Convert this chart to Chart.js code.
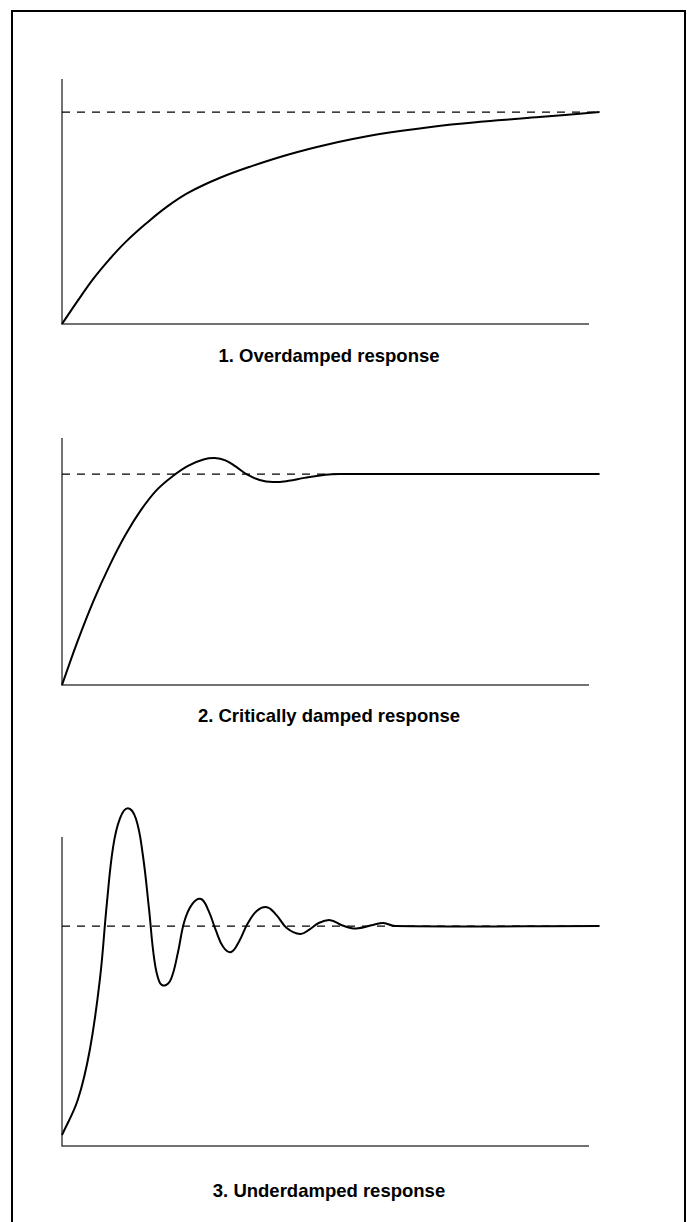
<!DOCTYPE html>
<html>
<head>
<meta charset="utf-8">
<script src="https://cdn.jsdelivr.net/npm/chart.js@4/dist/chart.umd.min.js"></script>
<style>
    body { margin: 0; width: 687px; height: 1222px; overflow: hidden; background: #fff; position: relative; }
    #frame { position: absolute; left: 11px; top: 10px; width: 675px; height: 1300px; border: 2px solid #000; box-sizing: border-box; }
    canvas { position: absolute; left: 40px; }
    .caption { position: absolute; left: 129px; width: 400px; text-align: center; font-family: "Liberation Sans", Arial, sans-serif; font-weight: bold; font-size: 18.5px; line-height: 20px; color: #000; }
</style>
</head>
<body>
<div id="frame"></div>
<canvas id="chart_over" width="600" height="305" style="top:39px"></canvas>
<canvas id="chart_crit" width="600" height="307" style="top:398px"></canvas>
<canvas id="chart_under" width="600" height="369" style="top:797px"></canvas>
<div class="caption" id="cap_over" style="top:346px"></div>
<div class="caption" id="cap_crit" style="top:706px"></div>
<div class="caption" id="cap_under" style="top:1181px"></div>

<script>
// data (time 0..10, setpoint = 1)
var captions = ['1. Overdamped response', '2. Critically damped response', '3. Underdamped response'];

var overX = [0, 0.3, 0.6, 0.9, 1.2, 1.6, 2.0, 2.4, 3.0, 3.6, 4.3, 5.0, 6.0, 7.0, 8.0, 9.0, 10.2];
var overY = [0, 0.11, 0.215, 0.305, 0.385, 0.475, 0.555, 0.62, 0.69, 0.745, 0.8, 0.845, 0.895, 0.93, 0.955, 0.975, 1.0];

var critX = [0, 0.3, 0.6, 0.9, 1.2, 1.5, 1.8, 2.1, 2.4, 2.7, 2.9, 3.1, 3.3, 3.5, 3.75, 4.0, 4.3, 4.6, 5.0, 5.3, 10.2];
var critY = [0, 0.21, 0.4, 0.565, 0.71, 0.83, 0.925, 0.99, 1.04, 1.07, 1.076, 1.065, 1.035, 1.0, 0.972, 0.962, 0.968, 0.982, 0.997, 1.0, 1.0];

var underX = [0, 0.3, 0.53, 0.72, 0.85, 0.97, 1.1, 1.25, 1.4, 1.53, 1.65, 1.75, 1.85, 1.95, 2.07, 2.2, 2.32, 2.47, 2.64, 2.78, 2.92, 3.06, 3.21, 3.36, 3.52, 3.7, 3.89, 4.07, 4.27, 4.52, 4.7, 4.88, 5.09, 5.3, 5.5, 5.62, 5.9, 6.1, 6.32, 10.2];
var underY = [0.05, 0.21, 0.44, 0.76, 1.1, 1.36, 1.49, 1.536, 1.49, 1.33, 1.08, 0.85, 0.745, 0.73, 0.76, 0.88, 1.02, 1.1, 1.123, 1.07, 0.98, 0.905, 0.882, 0.93, 1.01, 1.07, 1.086, 1.05, 0.99, 0.964, 0.985, 1.015, 1.027, 1.005, 0.99, 0.99, 1.005, 1.014, 1.0, 1.0];

var setX = [0, 10.2];
var setY = [1, 1];

// top of each y axis, in data units
var yMax = [1.156, 1.171, 1.405];

// axes: just a left and a bottom line
var axisLines = {
    id: 'axisLines',
    beforeDatasetsDraw: function (chart) {
        var a = chart.chartArea;
        var c = chart.ctx;
        c.save();
        c.strokeStyle = '#444';
        c.lineWidth = 1.5;
        c.beginPath();
        c.moveTo(a.left, a.top);
        c.lineTo(a.left, a.bottom);
        c.lineTo(a.right, a.bottom);
        c.stroke();
        c.restore();
    }
};

function pts(xs, ys) {
    return xs.map(function (x, i) { return { x: x, y: ys[i] }; });
}

function responseChart(id, xs, ys, top) {
    var ctx = document.getElementById(id);
    return new Chart(ctx, {
        type: 'line',
        data: {
            datasets: [
                {
                    data: pts(xs, ys),
                    borderColor: '#000',
                    borderWidth: 2,
                    tension: 0.4,
                    clip: false
                },
                {
                    data: pts(setX, setY),
                    borderColor: '#000',
                    borderWidth: 1.2,
                    borderDash: [8, 7],
                    clip: false
                }
            ]
        },
        options: {
            responsive: false,
            animation: false,
            layout: { padding: { left: 22, right: 51, top: 40, bottom: 20 } },
            elements: { point: { radius: 0 } },
            scales: {
                x: { type: 'linear', min: 0, max: 10, display: false },
                y: { min: 0, max: top, display: false }
            },
            plugins: { legend: { display: false }, tooltip: { enabled: false } }
        },
        plugins: [axisLines]
    });
}

responseChart('chart_over', overX, overY, yMax[0]);
responseChart('chart_crit', critX, critY, yMax[1]);
responseChart('chart_under', underX, underY, yMax[2]);

document.getElementById('cap_over').textContent = captions[0];
document.getElementById('cap_crit').textContent = captions[1];
document.getElementById('cap_under').textContent = captions[2];
</script>
</body>
</html>
